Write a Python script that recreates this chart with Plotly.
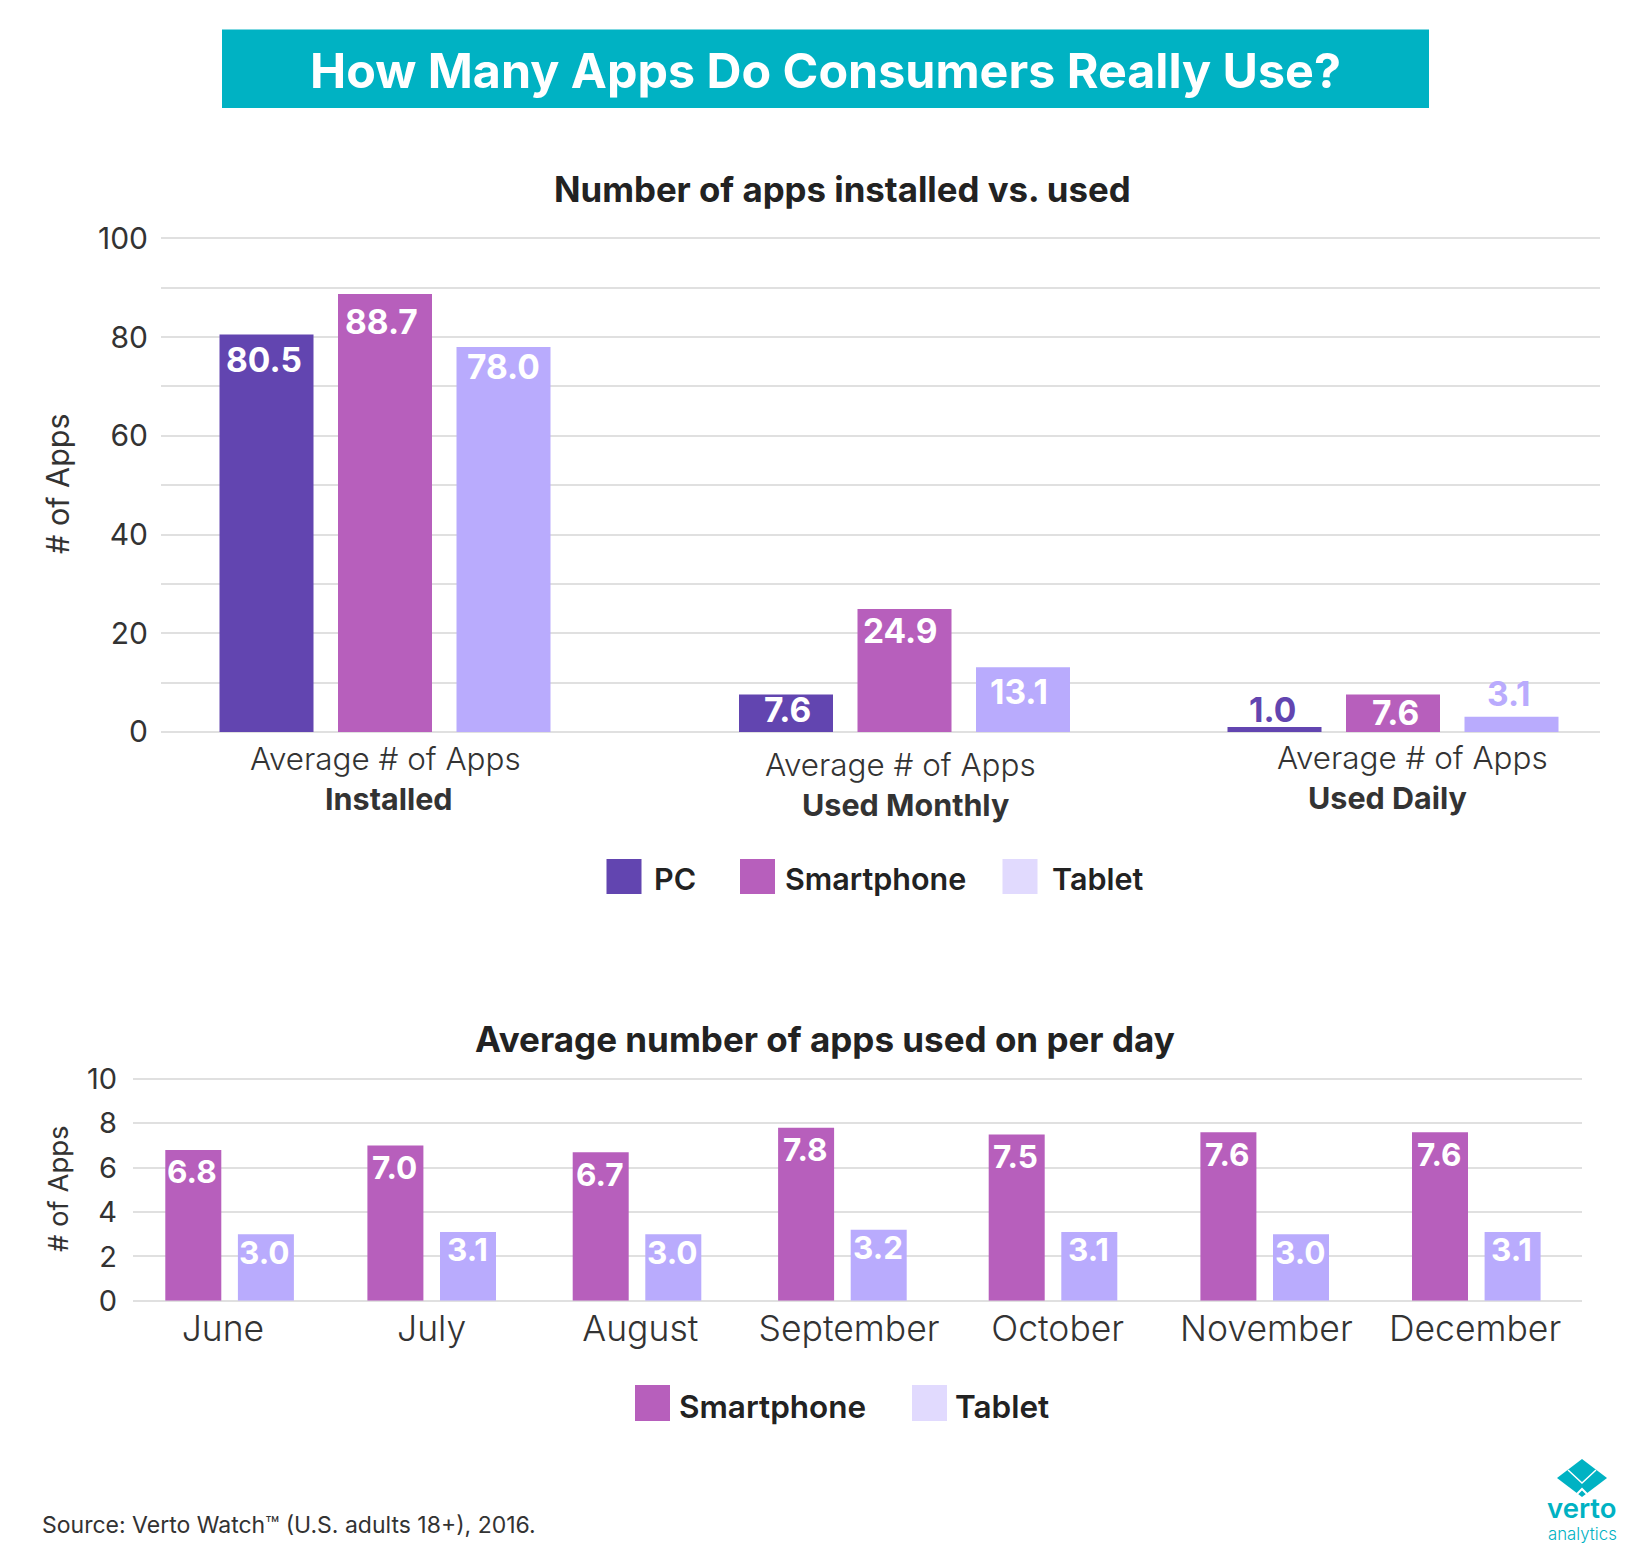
import plotly.graph_objects as go

W, H = 1651, 1566

# ---------- data ----------
TITLE = "How Many Apps Do Consumers Really Use?"
TITLE_TOP = "Number of apps installed vs. used"
TITLE_BOTTOM = "Average number of apps used on per day"
SOURCE = "Source: Verto Watch™ (U.S. adults 18+), 2016."
Y_TITLE = "# of Apps"

usage_categories = ["Installed", "Used Monthly", "Used Daily"]
usage_prefix = "Average # of Apps"
usage_pc = [80.5, 7.6, 1.0]
usage_smartphone = [88.7, 24.9, 7.6]
usage_tablet = [78.0, 13.1, 3.1]

months = ["June", "July", "August", "September", "October", "November", "December"]
monthly_smartphone = [6.8, 7.0, 6.7, 7.8, 7.5, 7.6, 7.6]
monthly_tablet = [3.0, 3.1, 3.0, 3.2, 3.1, 3.0, 3.1]

# ---------- style ----------
PC, PHONE, TABLET, TABLET_KEY = "#6245B0", "#B75FBC", "#B9ABFD", "#E1DAFE"
TEAL, GRID, INK, SOFT = "#00B2C3", "#E0E0E0", "#222222", "#333333"
FONT = "Inter"


def py(y):
    return 1 - y / H


def px(x):
    return x / W


fig = go.Figure()

# ---------- top chart ----------
T_L, T_R, T_Y0, T_Y100 = 161, 1600, 732, 238.3
T_UNIT = 504                        # pixels per category
T_C0 = 385                          # pixel of first category
T_NUDGE = [0, 15.5, 0]              # group drift from even spacing, px
T_W, T_PITCH = 94, 118.5
T_HEAD = 0.6                        # axis headroom so the top grid line is drawn

for k, (name, vals, col) in enumerate([("PC", usage_pc, PC),
                                       ("Smartphone", usage_smartphone, PHONE),
                                       ("Tablet", usage_tablet, TABLET)]):
    fig.add_trace(go.Bar(
        x=usage_categories, y=vals, name=name, marker=dict(color=col, line_width=0),
        width=T_W / T_UNIT,
        offset=[(n + (k - 1) * T_PITCH - T_W / 2) / T_UNIT for n in T_NUDGE],
        xaxis="x", yaxis="y", showlegend=False, hoverinfo="x+y+name"))

# ---------- bottom chart ----------
B_L, B_R, B_Y0, B_Y10 = 133, 1582, 1300.7, 1079
B_UNIT = 208.7
B_C0 = 222.9
B_NUDGE = [6.7, 0.1, -3.3, -6.6, -4.7, -1.7, 1.2]
B_W, B_PITCH = 56, 72.6
B_HEAD = 0.1

for k, (name, vals, col) in enumerate([("Smartphone", monthly_smartphone, PHONE),
                                       ("Tablet", monthly_tablet, TABLET)]):
    fig.add_trace(go.Bar(
        x=months, y=vals, name=name, marker=dict(color=col, line_width=0),
        width=B_W / B_UNIT,
        offset=[(n + (k - 0.5) * B_PITCH - B_W / 2) / B_UNIT for n in B_NUDGE],
        xaxis="x2", yaxis="y2", showlegend=False, hoverinfo="x+y+name"))

ann = []


def text(x, y, s, size, color=SOFT, bold=False, anchor="center", weight=None):
    ann.append(dict(x=px(x), y=py(y), xref="paper", yref="paper", text=s, showarrow=False,
                    xanchor=anchor, yanchor="middle",
                    font=dict(family=FONT, size=size, color=color,
                              weight=weight if weight else (700 if bold else 400))))


# banner and section titles
text(825, 70, TITLE, 48.4, "#FFFFFF", True)
text(843, 189, TITLE_TOP, 34.8, INK, True)
text(825, 1039, TITLE_BOTTOM, 35, INK, True)
text(40, 1525, SOURCE, 23, SOFT, anchor="left")

# top category labels (two lines, drawn as they sit in the source)
top_line1 = [(385, 759), (901, 765), (1412, 758)]
top_line2 = [(389, 798), (905, 804), (1387, 797)]
for cat, a, b in zip(usage_categories, top_line1, top_line2):
    text(a[0], a[1], usage_prefix, 31.4, SOFT, weight=300)
    text(b[0], b[1], cat, 30.5, SOFT, True)

# value labels on the top chart
T_SHIFT = [  # (dx, dy) from the bar top, px
    [(-3, 25), (1, 16), (-2, -17)],
    [(-4, 28), (-4, 22), (2, 19)],
    [(0, 20), (-4, 25), (-3, -23)],
]
for k, vals in enumerate([usage_pc, usage_smartphone, usage_tablet]):
    for i, v in enumerate(vals):
        dx, dy = T_SHIFT[k][i]
        col = "#FFFFFF"
        if usage_categories[i] == "Used Daily" and k == 0:
            col = PC
        if usage_categories[i] == "Used Daily" and k == 2:
            col = TABLET
        ann.append(dict(x=i, y=v, xref="x", yref="y", text=f"{v:.1f}", showarrow=False,
                        xanchor="center", yanchor="middle",
                        xshift=T_NUDGE[i] + (k - 1) * T_PITCH + dx, yshift=-dy,
                        font=dict(family=FONT, size=33.5, color=col, weight=700)))

# value labels on the bottom chart
for k, (vals, dy) in enumerate([(monthly_smartphone, 22), (monthly_tablet, 18)]):
    for i, v in enumerate(vals):
        ann.append(dict(x=i, y=v, xref="x2", yref="y2", text=f"{v:.1f}", showarrow=False,
                        xanchor="center", yanchor="middle",
                        xshift=B_NUDGE[i] + (k - 0.5) * B_PITCH - 1, yshift=-dy,
                        font=dict(family=FONT, size=31.5, color="#FFFFFF", weight=700)))

shapes = []


def rect(x0, y0, x1, y1, col):
    shapes.append(dict(type="rect", xref="paper", yref="paper", x0=px(x0), x1=px(x1),
                       y0=py(y0), y1=py(y1), fillcolor=col, line_width=0, layer="above"))


def path(points, fill=None, line=None, width=0):
    d = "M " + " L ".join(f"{px(a)},{py(b)}" for a, b in points)
    if fill:
        d += " Z"
    shapes.append(dict(type="path", xref="paper", yref="paper", path=d, layer="above",
                       fillcolor=fill if fill else "rgba(0,0,0,0)",
                       line=dict(color=line if line else "rgba(0,0,0,0)", width=width)))


rect(222, 29.5, 1429, 108, TEAL)

# legends
for x0, col, tx, label in [(606.5, PC, 652, "PC"), (740, PHONE, 783, "Smartphone"), (1002.5, TABLET_KEY, 1050, "Tablet")]:
    rect(x0, 859, x0 + 35, 894, col)
    text(tx, 879, label, 30.5, INK, anchor="left", weight=600)
for x0, col, tx, label in [(635, PHONE, 677, "Smartphone"), (912, TABLET_KEY, 953, "Tablet")]:
    rect(x0, 1385, x0 + 35, 1421, col)
    text(tx, 1406, label, 31.5, INK, anchor="left", weight=600)

# logo
path([(1582, 1459), (1607, 1478), (1582, 1497), (1557, 1478)], fill=TEAL)
path([(1568, 1470), (1582, 1483), (1596, 1470)], line="#FFFFFF", width=1.5)
path([(1577, 1494), (1582, 1489), (1587, 1494)], line="#FFFFFF", width=2)
text(1582, 1508, "verto", 27.5, TEAL, weight=600)
text(1582, 1534, "analytics", 16.8, TEAL, weight=300)

fig.update_layout(
    width=W, height=H, autosize=False, margin=dict(l=0, r=0, t=0, b=0),
    paper_bgcolor="#FFFFFF", plot_bgcolor="#FFFFFF", barmode="overlay", showlegend=False,
    font=dict(family=FONT, color=SOFT),
    annotations=ann, shapes=shapes,
    xaxis=dict(domain=[px(T_L), px(T_R)], anchor="y", type="category", categoryarray=usage_categories,
               range=[(T_L - T_C0) / T_UNIT, 2 + (T_R - T_C0 - 2 * T_UNIT) / T_UNIT],
               showticklabels=False, showgrid=False, zeroline=False, showline=False, ticks=""),
    yaxis=dict(domain=[py(T_Y0), py(T_Y100 - T_HEAD * (T_Y0 - T_Y100) / 100)], anchor="x",
               range=[0, 100 + T_HEAD], dtick=20,
               gridcolor=GRID, gridwidth=2, zeroline=True, zerolinecolor=GRID, zerolinewidth=2,
               minor=dict(dtick=10, showgrid=True, gridcolor=GRID, gridwidth=2),
               tickfont=dict(family=FONT, size=30, color=SOFT), ticks="", ticklabelstandoff=12,
               automargin=False,
               title=dict(text=Y_TITLE, font=dict(family=FONT, size=30.5, color=SOFT), standoff=19)),
    xaxis2=dict(domain=[px(B_L), px(B_R)], anchor="y2", type="category", categoryarray=months,
                range=[(B_L - B_C0) / B_UNIT, 6 + (B_R - B_C0 - 6 * B_UNIT) / B_UNIT],
                showgrid=False, zeroline=False, showline=False, ticks="",
                tickfont=dict(family=FONT, size=35.5, color=SOFT, weight=300),
                ticklabelstandoff=4, automargin=False),
    yaxis2=dict(domain=[py(B_Y0), py(B_Y10 - B_HEAD * (B_Y0 - B_Y10) / 10)], anchor="x2",
                range=[0, 10 + B_HEAD], dtick=2,
                gridcolor=GRID, gridwidth=2, zeroline=True, zerolinecolor=GRID, zerolinewidth=2,
                tickfont=dict(family=FONT, size=29, color=SOFT), ticks="", ticklabelstandoff=15,
                automargin=False,
                title=dict(text=Y_TITLE, font=dict(family=FONT, size=27.5, color=SOFT), standoff=10)),
)

fig.write_html("out.html", post_script="document.body.style.margin='0';",
               config=dict(displayModeBar=False))
